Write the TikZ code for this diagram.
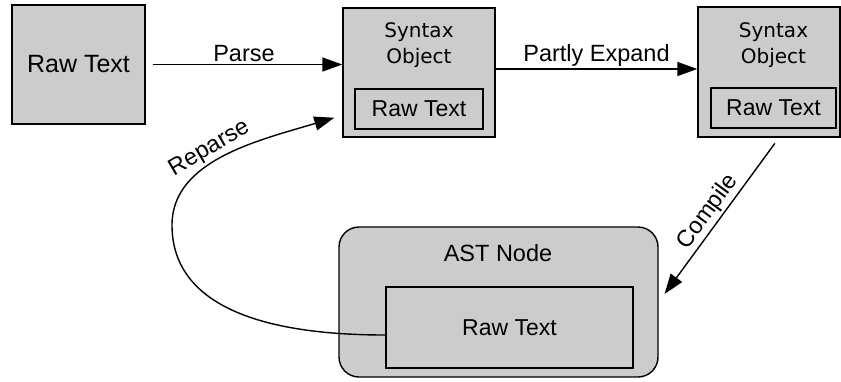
\documentclass[tikz,border=0pt]{standalone}
\usepackage{fontspec}
\setmainfont{Liberation Sans}
\newfontfamily\synfont{DejaVu Sans}
\usetikzlibrary{arrows.meta, calc, positioning}
\tikzstyle{box}       = [draw, fill=black!20, line width=1.4pt, inner sep=0pt]
\tikzstyle{arrow}     = [line width=1.4pt, -{Triangle[length=20pt, width=14pt]}]
\tikzstyle{arrowtext} = [inner sep=2pt, font=\fontsize{23.5}{28}\selectfont]
\tikzstyle{rawtext}   = [font=\fontsize{23}{28}\selectfont]
\tikzstyle{syntext}   = [align=center, font=\synfont\fontsize{20}{26}\selectfont]

\begin{document}
\begin{tikzpicture}[x=1pt, y=-1pt]
\useasboundingbox (0,0) rectangle (841,381);

% raw text
\node[box, minimum width=133pt, minimum height=119pt, font=\fontsize{25}{30}\selectfont] (raw) at (78.5,64.5) {Raw Text};

% first syntax object
\node[box, minimum width=152pt, minimum height=129pt] (so1) at (419,72.5) {};
\node[syntext] (so1t) at (419,45) {Syntax\\Object};
\node[box, rawtext, minimum width=128pt, minimum height=40pt] (so1r) at (419,109) {Raw Text};

% second syntax object
\node[box, minimum width=142pt, minimum height=130pt] (so2) at (769,72) {};
\node[syntext] (so2t) at (773.5,45) {Syntax\\Object};
\node[box, rawtext, minimum width=125pt, minimum height=40pt] (so2r) at (773.5,108) {Raw Text};

% ast node
\node[box, rounded corners=20pt, minimum width=319pt, minimum height=150pt] (ast) at (498.5,302) {};
\node[arrowtext] (astt) at (498,253) {AST Node};
\node[box, rawtext, minimum width=247pt, minimum height=81pt] (astr) at (509.5,327.5) {Raw Text};

% arrows
\draw[arrow, shorten <=7pt] (raw.east) -- node[arrowtext, above] {Parse} (raw.east -| so1.west);
\draw[arrow] ($(so1.east)+(0,-3.5)$) -- node[arrowtext, above] {Partly Expand} ($(so2.west)+(0,-3)$);
\draw[arrow, shorten <=7pt, shorten >=10pt] ($(so2.south)+(10,0)$) -- node[arrowtext, sloped, above] {Compile} (ast.east);
\draw[arrow] ($(astr.west)+(0,7.5)$) .. controls (250,335) and (172,300) .. (172,225)
  .. controls (172,160) and (260,140) .. node[arrowtext, sloped, above, pos=0.45] {Reparse} ($(so1.south west)+(-8,-20)$);

\end{tikzpicture}
\end{document}
